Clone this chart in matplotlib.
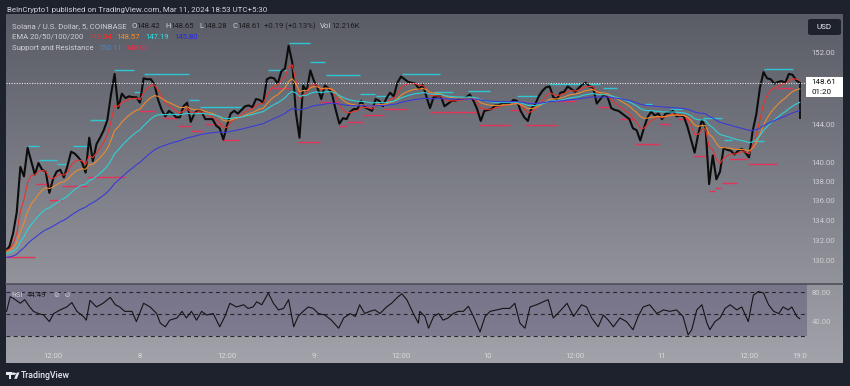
import numpy as np
import matplotlib
matplotlib.use("Agg")
import matplotlib.pyplot as plt
from matplotlib.patches import Rectangle, FancyBboxPatch, Circle, Polygon
from matplotlib.ticker import FixedLocator, NullLocator

plt.rcParams["font.family"] = ["Roboto", "DejaVu Sans"]

# SOL/USD 5-min chart, sampled every 30 minutes; hours counted from Mar 7 00:00
start_hour = 5.5
step_hours = 0.5
closes = [
    131.0, 131.4, 132.7, 134.8, 139.5, 138.5, 141.5, 140.1, 138.7, 139.9,
    139.2, 139.0, 136.8, 138.2, 139.0, 139.2, 138.4, 139.6, 141.1, 140.9,
    140.5, 140.0, 138.9, 142.6, 140.1, 141.9, 142.6, 143.4, 144.5, 147.3,
    149.6, 145.8, 147.4, 146.9, 147.1, 147.0, 147.0, 146.4, 149.1, 149.0,
    149.0, 148.4, 146.7, 145.6, 144.9, 145.5, 145.2, 144.8, 144.8, 146.0,
    146.4, 144.3, 145.2, 145.6, 145.4, 144.6, 144.6, 144.6, 143.9, 143.6,
    142.4, 143.9, 145.2, 145.5, 145.2, 145.6, 146.0, 146.1, 145.9, 146.8,
    146.7, 146.4, 149.0, 149.2, 149.1, 148.5, 149.9, 150.2, 152.8, 150.9,
    145.3, 142.6, 148.3, 147.7, 150.0, 148.8, 148.0, 146.8, 148.3, 148.0,
    147.3, 145.6, 144.1, 144.7, 144.6, 145.4, 145.7, 145.7, 146.6, 145.9,
    145.7, 145.5, 146.8, 146.6, 146.0, 146.9, 147.5, 147.1, 148.6, 149.3,
    149.0, 148.7, 148.6, 148.5, 147.9, 148.4, 147.1, 145.8, 147.0, 147.1,
    147.1, 146.0, 146.3, 146.6, 146.6, 146.8, 146.8, 147.0, 147.3, 146.6,
    145.7, 144.4, 145.5, 145.6, 145.7, 146.1, 146.1, 146.4, 146.3, 146.3,
    146.7, 146.6, 145.5, 144.8, 144.4, 145.8, 146.2, 147.1, 147.7, 148.1,
    148.2, 147.0, 146.8, 147.5, 147.6, 148.2, 147.9, 147.6, 148.0, 148.4,
    148.6, 148.2, 148.1, 146.3, 146.8, 147.3, 147.0, 145.8, 145.6, 145.5,
    145.2, 144.9, 144.6, 143.6, 143.4, 142.3, 143.6, 144.8, 145.4, 145.0,
    145.2, 144.6, 145.2, 145.3, 145.5, 144.9, 145.0, 144.9, 143.8, 142.4,
    141.0, 143.0, 144.5, 143.7, 137.7, 140.7, 138.2, 139.0, 141.5, 141.3,
    141.2, 140.8, 141.2, 141.4, 141.0, 140.5, 143.3, 145.1, 148.0, 149.8,
    149.1, 149.0, 148.5, 148.7, 148.8, 148.6, 149.6, 149.5, 148.9, 148.6,
]
last_wick_low = 144.6
last_price = 148.61

ema_lengths = [20, 50, 100, 200]
ema_seed = [131.0, 130.9, 130.7, 130.3]
ema_legend = ["149.04", "148.57", "147.19", "145.80"]

# RSI (hour, value)
rsi_hours = [
    5.6, 6.1, 6.5, 7.5, 8.1, 8.8, 9.3, 10.0, 10.7, 11.5, 12.1, 13.0, 13.9, 14.6, 15.3,
    16.2, 16.6, 17.1, 18.0, 18.9, 19.9, 20.6, 21.2, 21.9, 22.9, 23.5, 24.5, 25.4, 26.3,
    26.8, 27.5, 28.1, 29.1, 29.8, 30.4, 31.1, 31.8, 32.5, 33.2, 34.1, 35.0, 35.7, 36.4,
    37.3, 38.3, 38.9, 39.6, 40.1, 40.8, 41.7, 42.4, 43.1, 43.8, 44.5, 45.2, 45.8, 46.5,
    47.2, 47.9, 48.6, 49.5, 50.4, 51.4, 52.1, 53.0, 53.7, 54.3, 55.0, 55.7, 56.4, 57.1,
    58.0, 58.7, 59.4, 60.1, 60.8, 61.7, 62.4, 62.6, 63.3, 63.8, 64.5, 65.2, 65.8, 66.5,
    67.2, 67.9, 68.6, 69.3, 70.0, 70.9, 71.6, 72.3, 73.2, 74.1, 75.0, 75.7, 76.4, 77.1,
    77.8, 78.7, 79.6, 80.3, 81.0, 81.9, 82.9, 83.8, 84.9, 85.6, 86.3, 87.2, 87.9, 88.6,
    89.3, 90.2, 91.1, 92.0, 92.7, 93.4, 94.3, 95.3, 96.2, 97.1, 98.0, 98.9, 99.6, 100.1,
    100.8, 101.5, 102.2, 102.6, 103.3, 104.0, 104.7, 105.4, 106.3, 107.0, 107.9, 108.6,
    109.3, 110.0, 110.7, 111.4, 112.1, 112.7, 113.4, 113.9, 114.6, 115.0,
]
rsi_values = [
    54, 74, 72, 65, 70, 60, 54, 51, 49, 40, 51, 56, 60, 66, 54,
    47, 42, 69, 60, 65, 73, 63, 60, 54, 54, 40, 65, 60, 51,
    38, 33, 42, 45, 54, 45, 54, 42, 54, 49, 51, 33, 47, 65,
    60, 63, 58, 60, 67, 63, 79, 65, 56, 58, 70, 33, 47, 54,
    60, 58, 51, 49, 42, 31, 45, 51, 47, 63, 51, 54, 56, 51,
    60, 65, 72, 78, 70, 51, 38, 54, 47, 31, 47, 51, 42, 45,
    51, 54, 54, 61, 47, 26, 47, 54, 56, 58, 58, 65, 38, 31,
    60, 63, 67, 70, 45, 54, 65, 47, 63, 60, 45, 33, 49, 42,
    33, 45, 40, 29, 47, 60, 63, 51, 56, 54, 56, 47, 22, 29,
    56, 63, 38, 29, 40, 45, 58, 63, 56, 60, 40, 76,
    81, 79, 63, 54, 51, 60, 56, 60, 47, 44,
]
rsi_legend = "44.49"

# support / resistance segments: start hour, end hour, level
res_start = [8.5, 10.1, 12.6, 14.7, 17.1, 20.4, 23.2, 24.5, 30.7, 32.3, 41.6, 44.5, 47.4, 49.7,
             54.3, 56.6, 60.1, 64.5, 69.3, 76.0, 80.4, 87.9, 93.7, 97.1, 101.7, 104.5, 108.4, 110.1]
res_end = [10.1, 12.6, 13.8, 17.0, 19.3, 23.2, 24.3, 30.7, 32.2, 38.0, 44.3, 47.4, 49.5, 54.3,
           56.4, 58.5, 65.4, 67.2, 72.3, 78.9, 87.4, 89.8, 94.6, 98.7, 104.3, 105.6, 110.1, 114.1]
res_level = [141.7, 140.2, 139.8, 141.7, 144.5, 150.0, 147.6, 149.6, 146.7, 145.9, 150.0, 153.1,
             151.0, 149.5, 147.4, 147.1, 149.6, 147.6, 147.7, 147.1, 148.5, 148.0, 146.2, 145.7,
             144.7, 142.3, 142.2, 150.11]
sup_start = [5.7, 9.6, 11.4, 13.3, 16.7, 23.9, 27.2, 29.3, 31.1, 33.0, 35.3, 42.2, 45.8, 48.8,
             51.5, 52.5, 54.8, 57.6, 64.0, 70.8, 75.0, 77.1, 81.0, 87.2, 90.2, 92.3, 95.6, 98.2,
             100.3, 102.5, 103.3, 104.3, 105.2, 107.8, 111.8]
sup_end = [9.5, 11.7, 13.3, 16.7, 22.0, 26.1, 29.1, 31.1, 32.7, 35.3, 37.6, 44.7, 48.8, 51.4,
           52.5, 54.8, 57.6, 60.8, 70.9, 75.0, 76.4, 81.5, 84.2, 88.8, 92.0, 95.6, 97.1, 99.9,
           102.2, 103.3, 104.2, 106.4, 107.7, 111.8, 114.1]
sup_level = [130.4, 137.7, 136.05, 137.5, 138.4, 145.5, 144.7, 143.8, 143.3, 144.1, 142.3, 148.0,
             142.1, 146.5, 143.8, 144.3, 145.0, 145.7, 145.4, 144.0, 145.6, 144.0, 146.6, 145.9,
             144.6, 141.9, 144.1, 144.6, 140.6, 137.0, 137.3, 137.8, 140.3, 139.8, 148.00]
sr_legend = ["150.11", "148.00"]

price_ticks = [152, 144, 140, 138, 136, 134, 132, 130]
rsi_ticks = [80, 40]
rsi_bands = [80, 50, 20]
time_ticks = [12, 24, 36, 48, 60, 72, 84, 96, 108, 115]
time_labels = ["12:00", "8", "12:00", "9", "12:00", "10", "12:00", "11", "12:00", "19:0"]
ohlc_legend = [("O", "148.42"), ("H", "148.65"), ("L", "148.28"), ("C", "148.61")]
change_legend = "+0.19 (+0.13%)"
volume_legend = "12.216K"

W, H = 850, 386
BG = "#1e222d"
LIGHT = "#cfd0d6"
DARK = "#1a1a1c"
EMA_COLORS = ["#e8342f", "#ec8a2c", "#2fd0d6", "#3b3bd8"]
EMA_TEXT = ["#ff2b2b", "#ff8c1a", "#2fe3e3", "#2424ff"]
RES_COLOR = "#2ec6d2"
SUP_COLOR = "#e3335a"

hours = start_hour + step_hours * np.arange(len(closes))
ema_steps = 4  # smoothing steps per 30-min sample, tuned to the drawn lag


def ema(values, length, seed):
    a = 1 - (1 - 2 / (length + 1)) ** ema_steps
    out = np.empty(len(values))
    prev = seed
    for i, v in enumerate(values):
        prev = prev + a * (v - prev)
        out[i] = prev
    return out


def fx(x):
    return x / W


def fy(y):
    return 1 - y / H


fig = plt.figure(figsize=(W / 100, H / 100), dpi=100, facecolor=BG)

# gradient chart background
bg = fig.add_axes([fx(6), fy(363), fx(837), (363 - 14) / H])
g = np.linspace(0, 1, 256)[:, None, None]
top = np.array([90, 92, 102]) / 255
bot = np.array([162, 163, 170]) / 255
bg.imshow(top * (1 - g) + bot * g, aspect="auto", extent=[0, 1, 0, 1])
bg.axis("off")

ax = fig.add_axes([fx(6), fy(283.5), fx(800.5), (283.5 - 14) / H])
rax = fig.add_axes([fx(6), fy(341), fx(800.5), (341 - 284) / H], sharex=ax)
for a in (ax, rax):
    a.patch.set_alpha(0)
    for s in a.spines.values():
        s.set_visible(False)

ax.set_yscale("log")
ax.set_ylim(127.79, 156.49)
ax.set_xlim(5.52, 115.93)
ax.yaxis.set_major_locator(FixedLocator(price_ticks))
ax.yaxis.set_minor_locator(NullLocator())
ax.set_yticklabels([f"{p:.2f}" for p in price_ticks])
ax.yaxis.tick_right()
ax.tick_params(axis="y", length=0, pad=3.7, labelsize=5.6, labelcolor=LIGHT)
ax.tick_params(axis="x", bottom=False, labelbottom=False)

# support / resistance
ax.hlines(res_level, res_start, res_end, color=RES_COLOR, lw=1.0, zorder=2)
ax.hlines(sup_level, sup_start, sup_end, color=SUP_COLOR, lw=1.0, zorder=2)

ax.plot(hours, closes, color="#0c0c0c", lw=1.5, zorder=3)
ax.vlines(hours[-1], last_wick_low, closes[-1], color="#0c0c0c", lw=1.3, zorder=3)

for length, seed, col in zip(ema_lengths, ema_seed, EMA_COLORS):
    ax.plot(hours, ema(closes, length, seed), color=col, lw=0.8, zorder=4)

ax.axhline(last_price, color="#e4e4e8", lw=0.8, ls=(0, (1, 1.3)), zorder=5)

# RSI pane
rax.set_ylim(13.6, 91.3)
rax.axhspan(20, 91.3, color="#4a3f6e", alpha=0.36, lw=0, zorder=0)
for b in rsi_bands:
    rax.axhline(b, color="#26262c", lw=0.8, ls=(0, (3.5, 3)), zorder=1)
rax.plot(rsi_hours, rsi_values, color="#141416", lw=0.8, zorder=3)
rax.yaxis.set_major_locator(FixedLocator(rsi_ticks))
rax.set_yticklabels([f"{v:.2f}" for v in rsi_ticks])
rax.yaxis.tick_right()
rax.tick_params(axis="y", length=0, pad=3.7, labelsize=5.6, labelcolor=LIGHT)
rax.set_xticks(time_ticks)
rax.set_xticklabels(time_labels)
rax.tick_params(axis="x", length=0, pad=8.6, labelsize=5.6, labelcolor="#d8d9de")

# pane separator
fig.add_artist(plt.Line2D([fx(6), fx(843)], [fy(283.8), fy(283.8)], color="#4c4e58", lw=1.2))

renderer = fig.canvas.get_renderer()


def text_row(x, y, pieces, size=5.6):
    for txt, col, gap in pieces:
        x += gap
        t = fig.text(fx(x), fy(y), txt, color=col, size=size, va="center", ha="left")
        x += t.get_window_extent(renderer).width


fig.text(fx(6.7), fy(10), "BeInCrypto1 published on TradingView.com, Mar 11, 2024 18:53 UTC+5:30",
         color="#d1d4dc", size=5.7, va="center")

row1 = [("Solana / U.S. Dollar, 5, COINBASE", LIGHT, 0)]
for k, v in ohlc_legend:
    row1 += [(k, LIGHT, 5), (v, DARK, 0)]
row1 += [(change_legend, DARK, 3), ("Vol", LIGHT, 5), (volume_legend, DARK, 0)]
text_row(11.7, 26, row1)
text_row(11.7, 36.7, [("EMA 20/50/100/200", LIGHT, 0)] +
         [(v, c, 5) for v, c in zip(ema_legend, EMA_TEXT)])
text_row(11.7, 48, [("Support and Resistance", LIGHT, 0), (sr_legend[0], "#2f8fe8", 5),
                    (sr_legend[1], "#e6334f", 4)])
text_row(11.7, 295, [("RSI", LIGHT, 0), (rsi_legend, DARK, 4)])
fig.text(fx(54), fy(295), "\u2298  \u2298", color=LIGHT, size=5.2, va="center",
         family="DejaVu Sans")

# USD box
fig.add_artist(FancyBboxPatch((fx(808), fy(35)), fx(33), 16 / H,
                              boxstyle="round,pad=0,rounding_size=0.004",
                              fc=BG, ec="none", transform=fig.transFigure))
fig.text(fx(824.5), fy(27.3), "USD", color="#f0f0f4", size=5.8, ha="center", va="center")

# last price label
fig.add_artist(Rectangle((fx(806), fy(97)), fx(37), 20 / H, fc="white", ec="none",
                         transform=fig.transFigure))
fig.text(fx(811), fy(82.3), f"{last_price:.2f}", color="#111", size=5.8, va="center")
fig.text(fx(811), fy(91.5), "01:20", color="#111", size=5.8, va="center")

# TradingView logo
lc = "#e8e9ee"
fig.add_artist(Rectangle((fx(6), fy(374.6)), fx(5.6), 2.2 / H, fc=lc, ec="none",
                         transform=fig.transFigure))
fig.add_artist(Rectangle((fx(8.9), fy(378.8)), fx(2.4), 6.2 / H, fc=lc, ec="none",
                         transform=fig.transFigure))
fig.add_artist(Circle((fx(13.4), fy(373.7)), 1.2 / H, fc=lc, ec="none",
                      transform=fig.transFigure))
fig.add_artist(Polygon([(fx(14.2), fy(378.8)), (fx(16.8), fy(372.5)), (fx(19.4), fy(372.5)),
                        (fx(16.9), fy(378.8))], closed=True, fc=lc, ec="none",
                       transform=fig.transFigure))
fig.text(fx(20.8), fy(376), "TradingView", color=lc, size=6.3, va="center", weight="medium")

fig.savefig("out.png", dpi=100, facecolor=BG)
